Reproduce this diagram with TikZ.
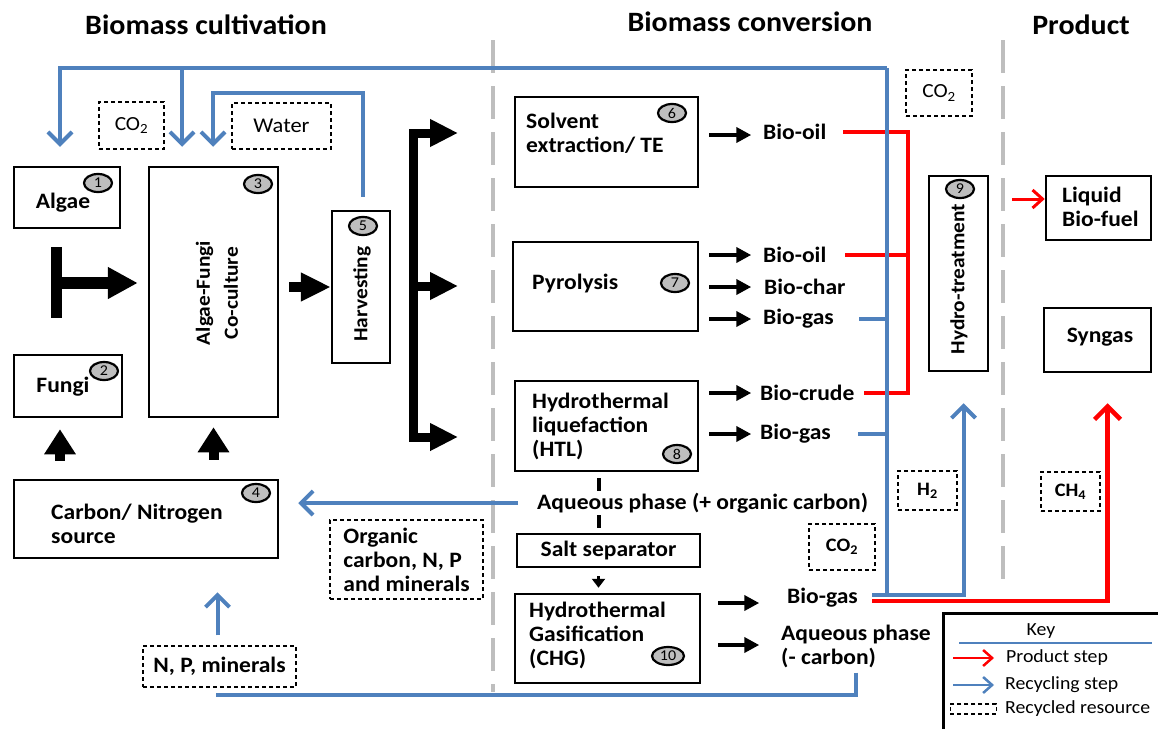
\documentclass[tikz,border=0pt]{standalone}
\usepackage{fontspec}
\setmainfont{Carlito}[FakeStretch=1.07]
\usetikzlibrary{arrows.meta,shapes.geometric}
\definecolor{rblue}{RGB}{79,129,189}
\definecolor{rred}{RGB}{255,0,0}
\definecolor{sepgray}{RGB}{190,190,190}
\definecolor{badgegray}{RGB}{190,190,190}
\begin{document}
\begin{tikzpicture}[x=1pt,y=-1pt,
  box/.style={draw, line width=2.5pt, inner sep=0pt},
  dbox/.style={draw, line width=1.1pt, dash pattern=on 4pt off 3pt, inner sep=0pt},
  lbl/.style={font=\fontsize{22}{24}\selectfont\bfseries, inner sep=0pt, align=left},
  sm/.style={font=\fontsize{19}{22}\selectfont\bfseries, inner sep=0pt},
  reg/.style={font=\fontsize{20}{24}\selectfont, inner sep=0pt},
  keyt/.style={font=\fontsize{18.5}{20}\selectfont, inner sep=0pt},
  hdr/.style={font=\fontsize{28}{30}\selectfont\bfseries, inner sep=0pt},
  rot/.style={font=\fontsize{20}{28}\selectfont\bfseries, inner sep=0pt, rotate=90, align=center},
  badge/.style={ellipse, draw, line width=2.2pt, fill=badgegray, minimum width=28pt, minimum height=18pt, inner sep=0pt, font=\fontsize{15}{15}\selectfont},
  sepline/.style={draw=sepgray, line width=4.5pt, dash pattern=on 33pt off 13pt},
  recyc/.style={draw=rblue, line width=4pt},
  rtip/.style={-{Straight Barb[length=12pt,width=24pt]}},
  prod/.style={draw=rred, line width=4.5pt},
  blkarr/.style={line width=4pt, -{Triangle[length=15pt,width=15pt]}},
  fatarr/.style={line width=10pt, -{Triangle[length=30pt,width=30pt]}},
]
\useasboundingbox (0,0) rectangle (1158,728);

% headers
\node[hdr] (h1) at (206,25) {Biomass cultivation};
\node[hdr] (h2) at (750,22) {Biomass conversion};
\node[hdr] (h3) at (1081,25) {Product};

% separators
\draw[sepline] (493,40) -- (493,692);
\draw[sepline] (1003,40) -- (1003,590);

% cultivation boxes
\node[box, minimum width=106pt, minimum height=61pt] (algae) at (67,197.5) {};
\node[lbl] at (63,203) {Algae};
\node[badge] at (98,183) {1};
\node[box, minimum width=108pt, minimum height=62pt] (fungi) at (68,386) {};
\node[lbl] at (63,387) {Fungi};
\node[badge] at (104,371) {2};
\node[box, minimum width=129pt, minimum height=250pt] (cocult) at (213.5,292) {};
\node[rot] at (217,293) {Algae-Fungi\\Co-culture};
\node[badge] at (258,184) {3};
\node[box, minimum width=58pt, minimum height=152pt] (harvest) at (361,287) {};
\node[rot] at (362,294) {Harvesting};
\node[badge] at (363,226) {5};
\node[box, minimum width=264pt, minimum height=78pt] (carbon) at (146,519) {};
\node[lbl, anchor=west] at (51,524) {Carbon/ Nitrogen\\source};
\node[badge] at (256,493) {4};

% recycled resources
\node[dbox, minimum width=65pt, minimum height=47pt, reg] (co2a) at (131.5,125.5) {CO\textsubscript{2}};
\node[dbox, minimum width=99pt, minimum height=46pt, font=\fontsize{21}{24}\selectfont] (water) at (281.5,126) {Water};
\node[dbox, minimum width=66pt, minimum height=46pt, reg] (co2b) at (939,93) {CO\textsubscript{2}};
\node[dbox, minimum width=153pt, minimum height=79pt, lbl] (orgc) at (406.5,559.5) {Organic\\carbon, N, P\\and minerals};
\node[dbox, minimum width=153pt, minimum height=41pt, lbl] (np) at (219.5,666.5) {N, P, minerals};
\node[dbox, minimum width=66pt, minimum height=46pt, sm] (co2c) at (842,547) {CO\textsubscript{2}};
\node[dbox, minimum width=59pt, minimum height=39pt, sm] (h2b) at (927.5,490.5) {H\textsubscript{2}};
\node[dbox, minimum width=59pt, minimum height=39pt, sm] (ch4) at (1070.5,491.5) {CH\textsubscript{4}};

% conversion boxes
\node[box, minimum width=183pt, minimum height=90pt] (solv) at (606.5,142) {};
\node[lbl, anchor=west] at (526,133) {Solvent\\extraction/ TE};
\node[badge] at (672,113) {6};
\node[box, minimum width=185pt, minimum height=89pt] (pyro) at (605.5,286.5) {};
\node[lbl, anchor=west] at (532,284) {Pyrolysis};
\node[badge] at (675,283) {7};
\node[box, minimum width=183pt, minimum height=90pt] (htl) at (606.5,426) {};
\node[lbl, anchor=west] at (532,426) {Hydrothermal\\liquefaction\\(HTL)};
\node[badge] at (677,454) {8};
\node[box, minimum width=183pt, minimum height=33pt, lbl] (salt) at (608.5,550.5) {Salt separator};
\node[box, minimum width=185pt, minimum height=89pt] (htg) at (607.5,638.5) {};
\node[lbl, anchor=west] at (529,635) {Hydrothermal\\Gasification\\(CHG)};
\node[badge, minimum width=32pt] at (668,656) {10};

% products of conversion
\node[lbl, anchor=west] (oil1) at (763,132) {Bio-oil};
\node[lbl, anchor=west] (oil2) at (763,255) {Bio-oil};
\node[lbl, anchor=west] (char) at (764,287) {Bio-char};
\node[lbl, anchor=west] (gas1) at (763,319) {Bio-gas};
\node[lbl, anchor=west] (crude) at (760,393) {Bio-crude};
\node[lbl, anchor=west] (gas2) at (760,434) {Bio-gas};
\node[lbl, anchor=west] (gas3) at (787,598) {Bio-gas};
\node[lbl, anchor=west] (aq2) at (781,646) {Aqueous phase\\(- carbon)};

% hydrotreatment and products
\node[box, minimum width=59pt, minimum height=195pt] (hydro) at (958.5,273.5) {};
\node[rot] at (959,279) {Hydro-treatment};
\node[badge] at (960,189) {9};
\node[box, minimum width=105pt, minimum height=64pt] (liquid) at (1098.5,208) {};
\node[lbl, anchor=west] at (1062,207) {Liquid\\Bio-fuel};
\node[box, minimum width=107pt, minimum height=64pt] (syngas) at (1097.5,340) {};
\node[lbl] at (1100,337) {Syngas};

% black flow arrows
\draw[line width=11pt] (56,247) -- (56,318);
\coordinate (tmid) at (56,283);
\draw[fatarr, line width=12pt, shorten >=10pt] (tmid) -- (tmid -| cocult.west);
\draw[fatarr, shorten <=10pt, -{Triangle[length=30pt,width=27pt]}] (cocult.east |- harvest.west) -- (harvest.west);
\coordinate (b1) at (458,133);
\coordinate (b2) at (458,286);
\coordinate (b3) at (458,437);
\draw[line width=9pt, line join=miter, {Triangle[length=28pt,width=26pt]}-{Triangle[length=28pt,width=26pt]}] (b1) -- (413,133) -- (413,437) -- (b3);
\draw[line width=9pt, -{Triangle[length=28pt,width=26pt]}] (413,286) -- (b2);
\coordinate (fa) at ([xshift=-8pt]fungi.south);
\draw[fatarr, -{Triangle[length=25pt,width=30pt]}, shorten <=18pt, shorten >=11pt] (fa |- carbon.north) -- (fa);
\draw[fatarr, -{Triangle[length=25pt,width=30pt]}, shorten <=19pt, shorten >=9pt] (cocult.south |- carbon.north) -- (cocult.south);

\draw[blkarr] (solv.east |- oil1.west) ++(10,3) -- ++(42,0);
\draw[blkarr] (pyro.east |- oil2.west) ++(10,0) -- ++(42,0);
\draw[blkarr] (pyro.east |- char.west) ++(10,0) -- ++(42,0);
\draw[blkarr] (pyro.east |- gas1.west) ++(10,0) -- ++(42,0);
\draw[blkarr] (htl.east |- crude.west) ++(10,0) -- ++(42,0);
\draw[blkarr] (htl.east |- gas2.west) ++(10,0) -- ++(42,0);
\draw[blkarr] ([xshift=17pt,yshift=35.5pt]htg.east) -- ++(41,0);
\draw[blkarr] ([xshift=17pt,yshift=-6.5pt]htg.east) -- ++(41,0);

% HTL -> salt separator -> HTG
\coordinate (sx) at ([xshift=-8pt]htl.south);
\draw[line width=4pt, shorten <=6pt, shorten >=5pt] (sx) -- (sx |- salt.north);
\draw[line width=3.5pt, -{Triangle[length=9pt,width=13pt]}, shorten <=8pt, shorten >=5pt] (salt.south -| sx) -- (htg.north -| sx);
\node[lbl, anchor=west, fill=white, inner ysep=2pt] (aq1) at (537,503) {Aqueous phase (+ organic carbon)};

% product (red) lines
\coordinate (rb) at (908,132);
\draw[prod, line join=miter] ([xshift=17pt]oil1.east) -- (oil1.east -| rb) -- (crude.east -| rb) -- ([xshift=9pt]crude.east);
\draw[prod] ([xshift=19pt]oil2.east) -- (oil2.east -| rb);
\draw[prod, line join=miter, -{Straight Barb[length=13pt,width=26pt]}, shorten >=30pt] ([xshift=14pt,yshift=-3pt]gas3.east) -| ([xshift=10pt]syngas.south);
\draw[draw=rred, line width=3pt, -{Straight Barb[length=10pt,width=18pt]}] ([xshift=-33pt,yshift=9pt]liquid.west) -- ([yshift=9pt]liquid.west);

% recycling (blue) lines
\coordinate (busT) at (887,68);
\coordinate (busB) at (887,595);
\coordinate (aT) at ([xshift=-7pt]algae.north);
\coordinate (cT) at (182,68);
\coordinate (wc) at (213,93);
\draw[recyc, rtip, line join=miter, shorten >=19pt] (busT) -| (aT);
\draw[recyc, rtip, shorten >=19pt] (cT) -- (cT |- cocult.north);
\draw[recyc] (busT) -- (busB);
\draw[recyc, rtip, line join=miter, shorten >=19pt] ([xshift=2pt,yshift=13pt]harvest.north) |- (wc) -- (wc |- cocult.north);
\draw[recyc, rtip, line join=miter, shorten >=31pt] ([xshift=14pt,yshift=3pt]gas3.east) -| ([xshift=5pt]hydro.south);
\draw[recyc] ([xshift=25pt]gas1.east) -- (gas1.east -| busT);
\draw[recyc] ([xshift=27pt]gas2.east) -- (gas2.east -| busT);
\draw[recyc, rtip, shorten >=19pt] ([xshift=-19pt]aq1.west) -- (aq1.west -| carbon.east);
\coordinate (npend) at (216,695);
\draw[recyc, line join=miter] ([yshift=-5pt]aq2.south) |- (npend);
\coordinate (npn) at ([xshift=-2pt]np.north);
\draw[recyc, rtip, shorten <=10pt, shorten >=33pt] (npn) -- (npn |- carbon.south);

% key
\node[box, anchor=north west, minimum width=240pt, minimum height=130pt] (key) at (942,612) {};
\node[keyt] (keyt1) at (1041,631) {Key};
\draw[draw=rblue, line width=1.5pt] (959,643) -- (1152,643);
\node[keyt, anchor=west] (kp) at (1006,658) {Product step};
\node[keyt, anchor=west] (kr) at (1005,685) {Recycling step};
\node[keyt, anchor=west] (kd) at (1005,709) {Recycled resource};
\draw[draw=rred, line width=2.5pt, -{Straight Barb[length=9pt,width=16pt]}] ([xshift=-53pt]kp.west) -- ([xshift=-12pt]kp.west);
\draw[draw=rblue, line width=2.5pt, -{Straight Barb[length=9pt,width=16pt]}] ([xshift=-52pt]kr.west) -- ([xshift=-11pt]kr.west);
\node[dbox, anchor=east, minimum width=46pt, minimum height=10pt] at ([xshift=-8pt]kd.west) {};
\end{tikzpicture}
\end{document}
